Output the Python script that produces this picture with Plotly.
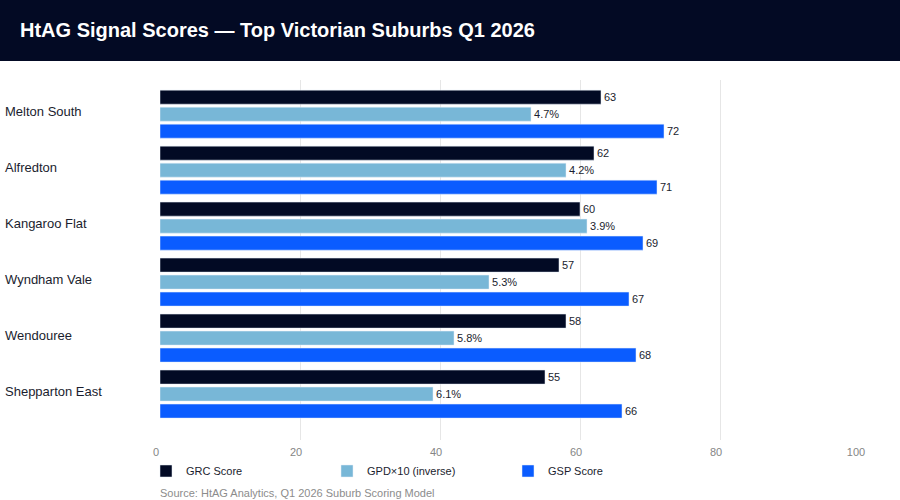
import plotly.graph_objects as go

suburbs = ["Melton South", "Alfredton", "Kangaroo Flat", "Wyndham Vale", "Wendouree", "Shepparton East"]
grc_scores = [63, 62, 60, 57, 58, 55]
gpd_bar_values = [53, 58, 61, 47, 42, 39]
gpd_labels = ["4.7%", "4.2%", "3.9%", "5.3%", "5.8%", "6.1%"]
gsp_scores = [72, 71, 69, 67, 68, 66]
x_ticks = [0, 20, 40, 60, 80, 100]

W, H = 900, 500
ML, MR, MT, MB = 160, 40, 80, 60
PW, PH = W - ML - MR, H - MT - MB

def px_x(p):
    return (p - ML) / PW

def px_y(p):
    return (H - MB - p) / PH

label_font = dict(family="Liberation Sans, Arial, sans-serif", size=11, color="#1a1d2e")

fig = go.Figure()
fig.add_trace(go.Bar(y=suburbs, x=grc_scores, orientation="h", name="GRC Score",
                     marker_color="#020a24", text=[str(v) for v in grc_scores],
                     textposition="outside", textfont=label_font, cliponaxis=False))
fig.add_trace(go.Bar(y=suburbs, x=gpd_bar_values, orientation="h", name="GPD×10 (inverse)",
                     marker_color="#78b7d7", text=gpd_labels,
                     textposition="outside", textfont=label_font, cliponaxis=False))
fig.add_trace(go.Bar(y=suburbs, x=gsp_scores, orientation="h", name="GSP Score",
                     marker_color="#0a5cff", text=[str(v) for v in gsp_scores],
                     textposition="outside", textfont=label_font, cliponaxis=False))

annotations = []
for s in suburbs:
    annotations.append(dict(x=px_x(5), xref="paper", y=s, yref="y", text=s, showarrow=False,
                            xanchor="left", yanchor="middle", yshift=3, xshift=-2,
                            font=dict(family="Liberation Sans, Arial, sans-serif", size=13, color="#1a1d2e")))
annotations.append(dict(x=0, xref="paper", y=px_y(493), yref="paper", xshift=-2,
                        text="Source: HtAG Analytics, Q1 2026 Suburb Scoring Model", showarrow=False,
                        xanchor="left", yanchor="middle",
                        font=dict(family="Liberation Sans, Arial, sans-serif", size=11, color="#8c8c8c")))

fig.update_layout(
    width=W, height=H,
    margin=dict(l=ML, r=MR, t=MT, b=MB),
    paper_bgcolor="white", plot_bgcolor="white",
    barmode="group", bargap=0.089, bargroupgap=0.176,
    title=dict(text="<b>HtAG Signal Scores — Top Victorian Suburbs Q1 2026</b>",
               x=20 / W, xanchor="left", xref="container",
               y=1 - 30 / H, yanchor="middle", yref="container",
               font=dict(family="Liberation Sans, Arial, sans-serif", size=20, color="white")),
    shapes=[dict(type="rect", xref="paper", yref="paper", x0=px_x(0), x1=px_x(W),
                 y0=px_y(61), y1=px_y(0), fillcolor="#030a24", line=dict(width=0), layer="below")],
    xaxis=dict(range=[0, 100], tickvals=x_ticks, showgrid=True, gridcolor="#e6e6e6", gridwidth=1,
               zeroline=False, showline=False, ticks="", ticklabelshift=-4, ticklabelstandoff=4,
               tickfont=dict(family="Liberation Sans, Arial, sans-serif", size=11, color="#858585")),
    yaxis=dict(categoryorder="array", categoryarray=suburbs, range=[5.82, -0.61],
               showticklabels=False, showgrid=False, zeroline=False, ticks=""),
    legend=dict(orientation="h", x=px_x(146), xanchor="left", y=px_y(471), yanchor="middle",
                entrywidth=136, entrywidthmode="pixels", traceorder="normal",
                font=dict(family="Liberation Sans, Arial, sans-serif", size=11, color="#1a1d2e")),
    annotations=annotations,
)

fig.write_html("out.html")
